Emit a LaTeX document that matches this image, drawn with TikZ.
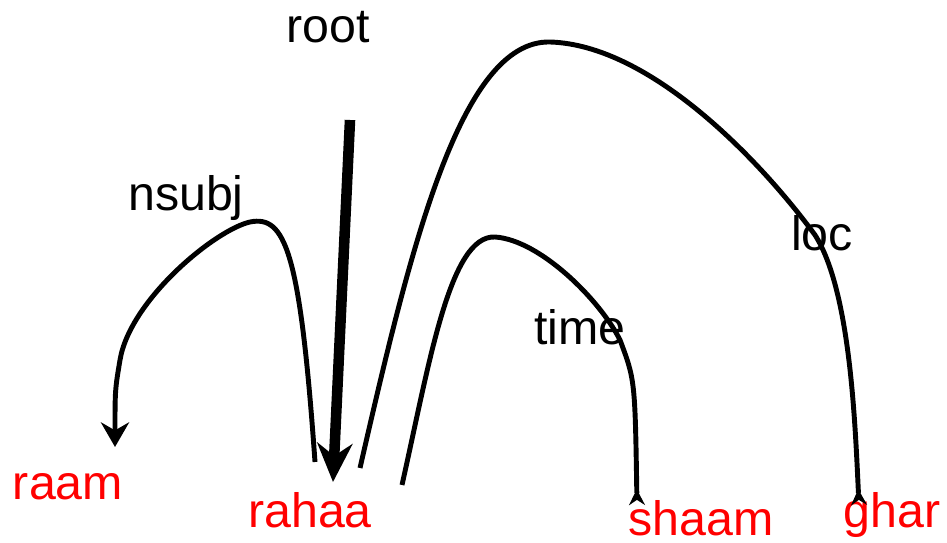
\documentclass[tikz,border=0pt]{standalone}
\usepackage{fontspec}
\setmainfont{Liberation Sans}
\usepackage{xcolor}
\usetikzlibrary{arrows.meta}
\tikzset{word/.style={text=red,inner sep=0pt,font=\fontsize{27.5}{32}\selectfont},
rel/.style={font=\fontsize{27.5}{32}\selectfont},
arc/.style={line width=2.8pt}}

\begin{document}
\begin{tikzpicture}[x=0.02cm,y=-0.02cm]
\useasboundingbox(0,0)rectangle(947,543);
\node[rel](root)at(328,27){root};
\node[rel](nsubj)at(186,198){nsubj};
\node[rel](loc)at(822,233){loc};
\node[rel](time)at(580,327){time};
\node[word](raam)at(68,487){raam};
\node[word](rahaa)at(310,510){rahaa};
\node[word](shaam)at(701,518){shaam};
\node[word](ghar)at(892,515){ghar};
\coordinate(r1)at(350,120);
\coordinate(r2)at(333,482);
\coordinate(n1)at(315,462);
\coordinate(n2)at(115,447);
\coordinate(l1)at(360,468);
\coordinate(l2)at(859,505);
\coordinate(t1)at(402,485);
\coordinate(t2)at(637,505);
\draw[line width=6pt,-{Stealth[length=22pt,width=20pt]}](r1)--(r2);
\draw[arc,-{Stealth[length=14pt,width=16pt]}](n1)..controls(300,250)and(285,215)..(250,222)
..controls(215,230)and(130,300)..(120,360)..controls(115,390)..(n2);
\draw[arc,-{Stealth[reversed,length=9pt,width=9pt]}](l1)..controls(410,250)and(460,40)..(550,42)
..controls(650,45)and(760,160)..(815,235)..controls(850,290)and(855,420)..(l2);
\draw[arc,-{Stealth[reversed,length=9pt,width=9pt]}](t1)..controls(430,360)and(450,235)..(495,237)
..controls(540,240)and(600,300)..(620,340)..controls(635,380)..(t2);
\end{tikzpicture}
\end{document}
